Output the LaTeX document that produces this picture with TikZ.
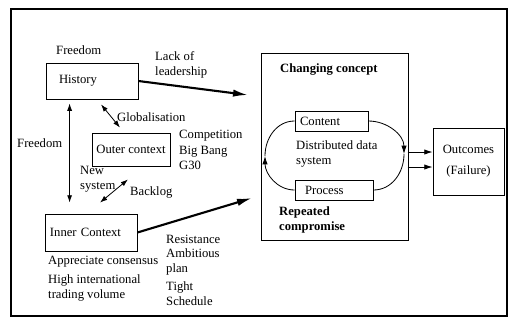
\documentclass[tikz,border=0pt]{standalone}
\usepackage{fontspec}
\setmainfont{Liberation Serif}
\usepackage{tikz}
\usetikzlibrary{arrows.meta}
\usetikzlibrary{calc}
\tikzstyle{block}=[draw,line width=0.7pt,rectangle,inner sep=0pt,font=\fontsize{10.8}{13}\selectfont]
\tikzstyle{note}=[anchor=west,align=left,inner sep=0pt,font=\fontsize{10.8}{13}\selectfont]
\tikzstyle{bold note}=[note,font=\fontsize{10.8}{13.5}\selectfont\bfseries]
\tikzstyle{bigarrow} = [draw,line width=1.8pt,-{Latex[length=4.5mm,width=2.2mm]}]
\tikzstyle{thinarrow} = [draw,line width=0.7pt,-{Latex[length=2.5mm,width=1.6mm]}]
\tikzstyle{twoway} = [draw,line width=0.7pt,{Latex[length=2.2mm,width=1.5mm]}-{Latex[length=2.2mm,width=1.5mm]}]
\tikzstyle{loopline} = [draw,line width=0.7pt]

\begin{document}
\begin{tikzpicture}[x=0.03cm,y=-0.03cm]
    \useasboundingbox (0,0) rectangle (509,326);
    \draw[line width=0.9pt] (11,9) rectangle (507,316);

    % the boxes
    \node[block,minimum width=2.76cm,minimum height=1.08cm,text width=1.98cm,inner xsep=0.39cm,align=left] (history) at (92,81) {History};
    \node[block,minimum width=2.34cm,minimum height=0.99cm] (outer) at (131,149.5) {Outer context};
    \node[block,minimum width=2.76cm,minimum height=1.11cm,text width=2.46cm,inner xsep=0.15cm,align=left] (inner) at (91,232.5) {Inner Context};
    \node[block,minimum width=4.41cm,minimum height=5.61cm] (concept) at (334.5,146.5) {};
    \node[block,minimum width=2.19cm,minimum height=0.6cm,text width=1.89cm,inner xsep=0.15cm,align=left] (content) at (331.5,121) {Content};
    \node[block,minimum width=2.34cm,minimum height=0.6cm,text width=1.74cm,inner xsep=0.3cm,align=left] (process) at (334,190) {Process};
    \node[block,minimum width=2.13cm,minimum height=2.01cm,align=center] (outcomes) at (468.5,161.5) {Outcomes\\[5pt](Failure)};

    % the texts
    \foreach \pos/ \name/ \txt in {{(56,50)/freeA/Freedom}, {(155,65)/lack/Lack of\\leadership},
        {(117,117)/glob/Globalisation}, {(17,143)/freeB/Freedom},
        {(179,150)/compet/Competition\\Big Bang\\G30}, {(80,179)/newsys/New\\system},
        {(130,192)/backlog/Backlog}, {(48,262)/apprec/Appreciate consensus},
        {(48,288)/highint/High international\\trading volume}, {(166,239)/resist/Resistance},
        {(166,262)/ambit/Ambitious\\plan}, {(166,294)/tight/Tight\\Schedule},
        {(296,154)/distrib/Distributed data\\system}}
        \node[note] (\name) at \pos {\txt};
    \node[bold note] (changing) at (280,70) {Changing concept};
    \node[bold note] (repeated) at (279,220) {Repeated\\compromise};

    % connectors
    \coordinate (tipA) at (248,95);
    \coordinate (tipB) at (252,198);
    \path[bigarrow] (history.east) -- (tipA);
    \path[bigarrow] (inner.east) -- (tipB);

    \path[twoway] ($(history.south)+(9,5)$) -- ($(outer.north)+(-11,-5)$);
    \path[twoway] ($(history.south west)+(24,4)$) -- ($(inner.north west)+(25,-11)$);
    \path[twoway] ($(inner.north)+(9,-11)$) -- ($(outer.south)+(-3,13)$);

    % the loop inside the concept box
    \coordinate (loopR) at (404,154);
    \coordinate (loopL) at (265,156);
    \path[thinarrow] (content.east) to[out=0,in=90] (loopR);
    \path[loopline] (loopR) to[out=-90,in=0] (process.east);
    \path[thinarrow] (process.west) to[out=180,in=-90] (loopL);
    \path[loopline] (loopL) to[out=90,in=180] (content.west);

    \foreach \dy in {-9.5, 5.5}
        \path[thinarrow] ($(outcomes.west)+(-25,\dy)$) -- ($(outcomes.west)+(0,\dy)$);
\end{tikzpicture}
\end{document}
